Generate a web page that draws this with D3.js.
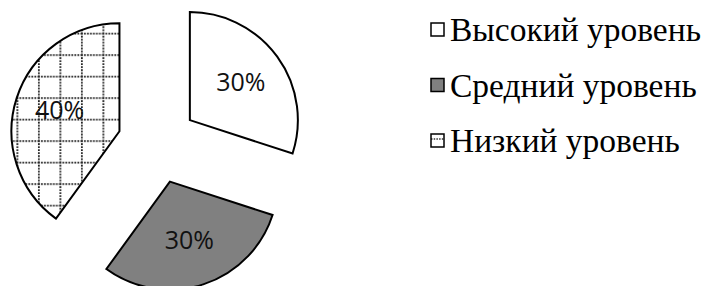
<!DOCTYPE html>
<html>
<head>
<meta charset="utf-8">
<script src="https://cdn.jsdelivr.net/npm/d3@7"></script>
<style>
  body { margin: 0; background: #fff; }
  svg { display: block; }
</style>
</head>
<body>
<svg id="canvas" width="711" height="286"></svg>
<script>
// chart data
let categories = ['Высокий уровень', 'Средний уровень', 'Низкий уровень']
let values = [30, 30, 40]
let labels = ['30%', '30%', '40%']

let width = 711
let height = 286
let radius = 108
let explode = 40
let cx = 157.5
let cy = 143.6

let canvas = d3.select('#canvas')

// dotted grid pattern for the third slice
let defs = canvas.append('defs')
let grid = defs.append('pattern')
    .attr('id', 'grid')
    .attr('patternUnits', 'userSpaceOnUse')
    .attr('x', 4.5)
    .attr('y', 9)
    .attr('width', 21.5)
    .attr('height', 21.5)
grid.append('rect')
    .attr('width', 21.5).attr('height', 21.5)
    .attr('fill', '#fff')
grid.append('line')
    .attr('x1', 0).attr('y1', 0.9).attr('x2', 21.5).attr('y2', 0.9)
    .attr('stroke', '#222').attr('stroke-width', 1.8).attr('stroke-dasharray', '1.8,1.2')
grid.append('line')
    .attr('x1', 0.9).attr('y1', 0).attr('x2', 0.9).attr('y2', 21.5)
    .attr('stroke', '#222').attr('stroke-width', 1.8).attr('stroke-dasharray', '1.8,1.2')

let legendPat = defs.append('pattern')
    .attr('id', 'legendGrid')
    .attr('patternUnits', 'objectBoundingBox')
    .attr('width', 1).attr('height', 1)
legendPat.append('rect')
    .attr('width', 14).attr('height', 14).attr('fill', '#fff')
legendPat.append('line')
    .attr('x1', 0).attr('y1', 5).attr('x2', 14).attr('y2', 5)
    .attr('stroke', '#333').attr('stroke-width', 1.4).attr('stroke-dasharray', '1.5,1.2')

let fills = ['#ffffff', '#808080', 'url(#grid)']
let legendFills = ['#ffffff', '#808080', 'url(#legendGrid)']

let pie = d3.pie().sort(null).value(d => d)
let slices = pie(values)

let arc = d3.arc().innerRadius(0).outerRadius(radius)
let labelArc = d3.arc().innerRadius(63).outerRadius(63)

let offset = (d) => {
    let mid = (d.startAngle + d.endAngle) / 2
    return [cx + explode * Math.sin(mid), cy - explode * Math.cos(mid)]
}

let block = canvas.selectAll('g.slice')
    .data(slices)
    .enter()
    .append('g')
    .attr('class', 'slice')
    .attr('transform', (d) => {
        let p = offset(d)
        return 'translate(' + p[0] + ', ' + p[1] + ')'
    })

block.append('path')
    .attr('d', arc)
    .attr('fill', (d, i) => fills[i])
    .attr('stroke', '#000')
    .attr('stroke-width', 2)
    .attr('stroke-linejoin', 'miter')

block.append('text')
    .text((d, i) => labels[i])
    .attr('transform', (d) => 'translate(' + labelArc.centroid(d) + ')')
    .attr('text-anchor', 'middle')
    .attr('dy', '0.3em')
    .style('font-family', '"Open Sans", sans-serif')
    .style('font-size', '25px')
    .attr('fill', '#111')

// legend
let legendY = d3.scalePoint()
    .domain(categories)
    .range([41, 152])

let legend = canvas.selectAll('g.legend')
    .data(categories)
    .enter()
    .append('g')
    .attr('class', 'legend')
    .attr('transform', (c) => 'translate(431, ' + legendY(c) + ')')

legend.append('rect')
    .attr('x', 0)
    .attr('y', -18)
    .attr('width', 13)
    .attr('height', 13)
    .attr('fill', (c, i) => legendFills[i])
    .attr('stroke', '#000')
    .attr('stroke-width', 1.5)

legend.append('text')
    .text((c) => c)
    .attr('x', 19)
    .attr('y', 0)
    .style('font-family', '"Liberation Serif", "Times New Roman", serif')
    .style('font-size', '33.5px')
    .attr('fill', '#000')
</script>
</body>
</html>
